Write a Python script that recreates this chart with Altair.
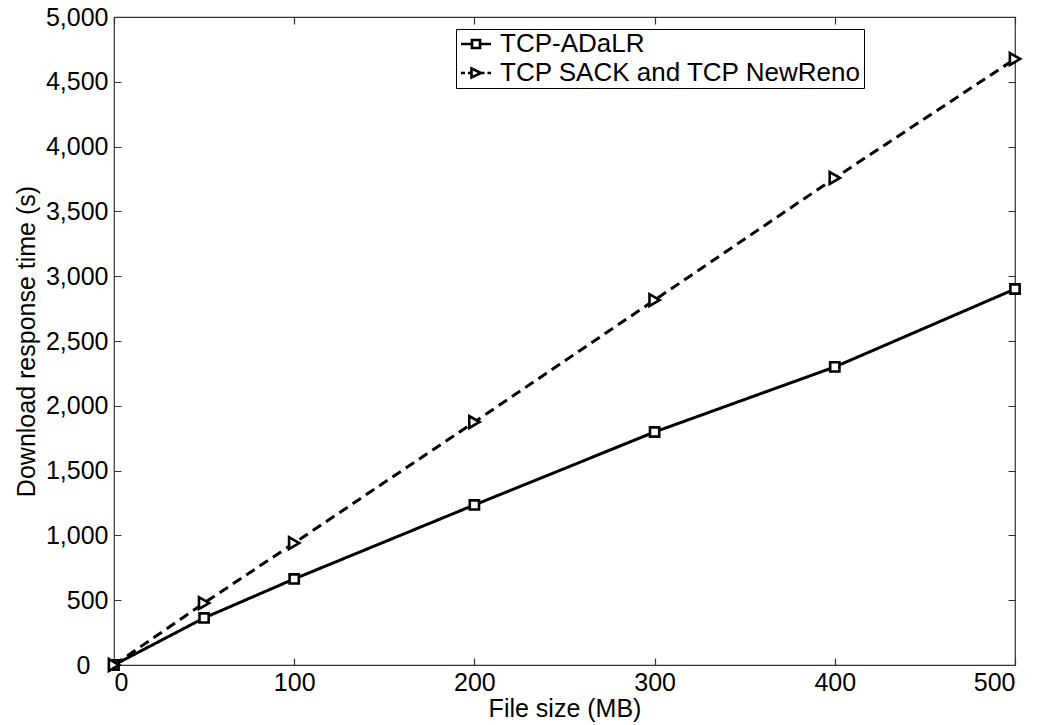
import altair as alt
import pandas as pd

sizes = [0, 50, 100, 200, 300, 400, 500]
adalr = [0, 363, 664, 1235, 1798, 2300, 2901]
sack = [0, 478, 941, 1875, 2816, 3758, 4676]
series = ["TCP-ADaLR", "TCP SACK and TCP NewReno"]
x_ticks = [0, 100, 200, 300, 400, 500]
y_ticks = list(range(0, 5001, 500))

rows = []
for s, a, b in zip(sizes, adalr, sack):
    rows.append({"size": s, "time": a, "series": series[0]})
    rows.append({"size": s, "time": b, "series": series[1]})
df = pd.DataFrame(rows)

FONT = "Liberation Sans"
W, H = 901, 648

x = alt.X("size:Q", scale=alt.Scale(domain=[0, 500], nice=False),
          axis=alt.Axis(values=x_ticks, title="File size (MB)", labelPadding=5,
                        titlePadding=1, gridDash=[7, H - 14, 7]))
y = alt.Y("time:Q", scale=alt.Scale(domain=[0, 5000], nice=False),
          axis=alt.Axis(values=y_ticks, format=",d", title="Download response time (s)",
                        labelPadding={"condition": {"test": "datum.value === 0", "value": 24},
                                      "value": 6},
                        titlePadding=6, gridDash=[7, W - 14, 7]))

lines = alt.Chart(df).mark_line(color="black", strokeWidth=3).encode(
    x=x, y=y,
    strokeDash=alt.StrokeDash("series:N", scale=alt.Scale(domain=series, range=[[1, 0], [10, 6]]),
                              legend=None),
    detail="series:N",
)

square_path = "M-1,-1H1V1H-1Z"
points = alt.Chart(df).mark_point(filled=False, color="black", fill="white", fillOpacity=1,
                                  strokeWidth=2.6, opacity=1).encode(
    x=x, y=y,
    shape=alt.Shape("series:N", scale=alt.Scale(domain=series, range=[square_path, "triangle-right"]),
                    legend=None),
    size=alt.Size("series:N", scale=alt.Scale(domain=series, range=[85, 140]), legend=None),
)

leg_sq = "M-1,0H0.1M0.9,0H2M0.1,-0.4H0.9V0.4H0.1Z"
leg_tri = "M-1,0H-0.6M-0.3,0H0.05M0.05,-0.45L1,0L0.05,0.45ZM1,0H1.35M1.65,0H2"
legend_layer = alt.Chart(df).transform_filter("false").mark_point(
    filled=False, color="black", strokeWidth=2.6, size=400, opacity=1).encode(
    x=x, y=y,
    shape=alt.Shape("series:N", scale=alt.Scale(domain=series, range=[leg_sq, leg_tri]),
                    legend=alt.Legend(title=None, orient="none", legendX=342, legendY=12,
                                      labelFont=FONT, labelFontSize=26, labelColor="black",
                                      symbolSize=400, symbolStrokeWidth=2.6,
                                      symbolStrokeColor="black", symbolFillColor="white",
                                      labelOffset=16, rowPadding=3, padding=2,
                                      strokeColor="black", fillColor="white",
                                      labelLimit=600)),
)

chart = alt.layer(lines, points, legend_layer).resolve_scale(
    shape="independent", size="independent"
).properties(
    width=W, height=H,
    autosize=alt.AutoSizeParams(type="none"),
    padding={"left": 114, "top": 17, "right": 28, "bottom": 60},
    background="white",
).configure_view(stroke="#333333", strokeWidth=1.2).configure_axis(
    labelFont=FONT, titleFont=FONT, labelFontSize=25, titleFontSize=25,
    labelColor="black", titleColor="black", titleFontWeight="normal",
    domain=False, ticks=False, grid=True, gridColor="#333333", gridWidth=1.2, gridOpacity=1,
)

chart.save("out.html", embed_options={"renderer": "svg", "actions": False})
